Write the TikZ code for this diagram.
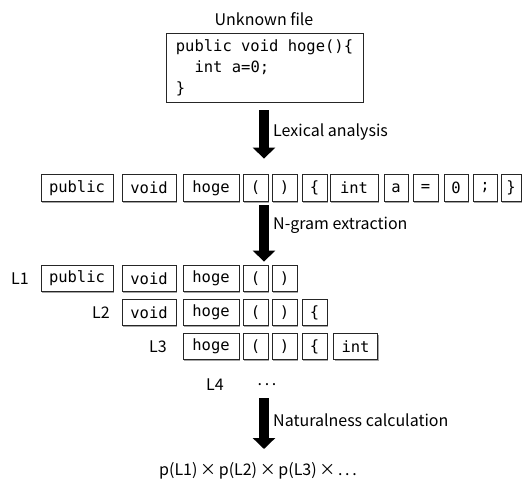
\documentclass[tikz,border=0pt]{standalone}
\usepackage{fontspec}
\usetikzlibrary{shadows,arrows.meta}
\newfontfamily\monof{DejaVu Sans Mono}
\newfontfamily\sansf{Noto Sans CJK JP}
\newcommand\tk[5]{\node[tok,minimum width=#4pt] (#1) at (#3,#2) {#5};}
\begin{document}
\begin{tikzpicture}[x=1pt,y=-1pt,
  boxbase/.style={draw=black!85, line width=0.8pt, fill=white,
    drop shadow={shadow xshift=1.3pt, shadow yshift=-1.3pt, fill=black, opacity=0.35}},
  tok/.style={boxbase, minimum height=26.5pt, inner sep=0pt,
    font=\monof\fontsize{15.5}{18}\selectfont},
  codebox/.style={boxbase, inner sep=0pt, align=left,
    font=\monof\fontsize{15.5}{21}\selectfont},
  lab/.style={font=\sansf\fontsize{16}{19}\selectfont, inner sep=0pt},
  bigarrow/.style={line width=10pt, -{Triangle[width=22pt,length=11pt]}}]
\useasboundingbox (0,0) rectangle (524,481);

% unknown file
\node[lab] (title) at (264,19) {Unknown file};
\node[codebox, minimum width=197pt, minimum height=69pt] (code) at (264.5,67.5)
  {public void hoge()\{\\\ \ int a=0;\\\}};

\coordinate (ax) at (264,0);

% token row
\tk{Apublic}{188}{77}{72}{public}
\tk{Avoid}{188}{149}{54}{void}
\tk{Ahoge}{188}{211}{56}{hoge}
\tk{Alp}{188}{255.5}{25}{(}
\tk{Arp}{188}{284.5}{25}{)}
\tk{Alb}{188}{314.5}{25}{\{}
\tk{Aint}{188}{354}{48}{int}
\tk{Aa}{188}{396}{24}{a}
\tk{Aeq}{188}{425.5}{25}{=}
\tk{Azero}{188}{456}{24}{0}
\tk{Asemi}{188}{485}{24}{;}
\tk{Arb}{188}{511}{20}{\}}

% L1
\node[lab] (L1) at (20,278.5) {L1};
\tk{Bpublic}{278.5}{77}{72}{public}
\tk{Bvoid}{278.5}{149}{54}{void}
\tk{Bhoge}{278.5}{211}{56}{hoge}
\tk{Blp}{278.5}{255.5}{25}{(}
\tk{Brp}{278.5}{284.5}{25}{)}

% L2
\node[lab] (L2) at (101,312.5) {L2};
\tk{Cvoid}{312.5}{149}{54}{void}
\tk{Choge}{312.5}{211}{56}{hoge}
\tk{Clp}{312.5}{255.5}{25}{(}
\tk{Crp}{312.5}{284.5}{25}{)}
\tk{Clb}{312.5}{314.5}{25}{\{}

% L3
\node[lab] (L3) at (158,346.5) {L3};
\tk{Dhoge}{346.5}{211}{56}{hoge}
\tk{Dlp}{346.5}{255.5}{25}{(}
\tk{Drp}{346.5}{284.5}{25}{)}
\tk{Dlb}{346.5}{314.5}{25}{\{}
\tk{Dint}{346.5}{355.5}{44}{int}

% L4
\node[lab] (L4) at (215,385) {L4};
\node[lab] (dots) at (267,385) {.\,.\,.};

% formula
\node[lab] (formula) at (258,471) {p(L1)\,×\,p(L2)\,×\,p(L3)\,×\,.\,.\,.};

% arrows
\draw[bigarrow, shorten <=8pt, shorten >=15.75pt] (ax |- code.south) -- (ax |- Apublic.north);
\node[lab, anchor=west] (lex) at (273,132) {Lexical analysis};
\draw[bigarrow, shorten <=3.75pt, shorten >=3.25pt] (ax |- Apublic.south) -- (ax |- Bpublic.north);
\node[lab, anchor=west] (ngram) at (273,225) {N-gram extraction};
\draw[bigarrow, shorten <=13pt, shorten >=22pt] (ax |- L4.center) -- (ax |- formula.center);
\node[lab, anchor=west] (nat) at (273,420) {Naturalness calculation};
\end{tikzpicture}
\end{document}
